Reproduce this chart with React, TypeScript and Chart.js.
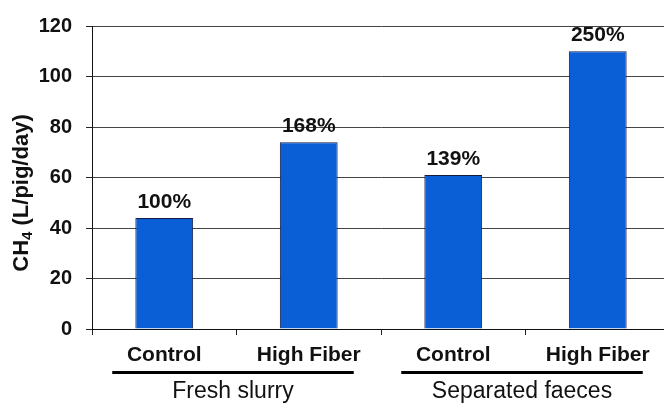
import React, { useEffect, useRef } from "react";
import { Chart, registerables } from "chart.js";

Chart.register(...registerables);

// Methane emission per pig and day for each diet and manure fraction
const categories = ["Control", "High Fiber", "Control", "High Fiber"];
const methaneValues = [44, 74, 61, 110];
const relativeLabels = ["100%", "168%", "139%", "250%"];
const groupNames = ["Fresh slurry", "Separated faeces"];
const groupFirstIndex = [0, 2];
const groupLastIndex = [1, 3];
const yTicks = [0, 20, 40, 60, 80, 100, 120];

const FONT = '"Liberation Sans", Arial, Helvetica, sans-serif';
const TEXT = "#111111";
const CANVAS_W = 670;
const CANVAS_H = 403;

const annotations = {
  id: "annotations",
  afterDatasetsDraw(chart: any) {
    const { ctx } = chart;
    const xs = chart.scales.x;
    const meta = chart.getDatasetMeta(0);

    ctx.save();
    ctx.fillStyle = TEXT;

    // percentage labels above the bars
    ctx.font = `bold 21px ${FONT}`;
    ctx.textAlign = "center";
    ctx.textBaseline = "alphabetic";
    meta.data.forEach((bar: any, i: number) => {
      ctx.fillText(relativeLabels[i], bar.x, bar.y - 10);
    });

    // group underlines and group names under the category labels
    groupNames.forEach((name, g) => {
      const x0 = xs.getPixelForValue(groupFirstIndex[g]) - 52;
      const x1 = xs.getPixelForValue(groupLastIndex[g]) + 45;
      ctx.fillStyle = "#000";
      ctx.fillRect(x0, 371, x1 - x0, 3);
      ctx.fillStyle = TEXT;
      ctx.font = `23px ${FONT}`;
      ctx.textAlign = "center";
      ctx.fillText(name, (x0 + x1) / 2, 398);
    });

    // vertical axis title with subscript
    ctx.translate(28, 193);
    ctx.rotate(-Math.PI / 2);
    const main = `bold 22px ${FONT}`;
    const sub = `bold 15px ${FONT}`;
    const parts = [
      { t: "CH", f: main, dy: 0 },
      { t: "4", f: sub, dy: 4 },
      { t: " (L/pig/day)", f: main, dy: 0 },
    ];
    let total = 0;
    parts.forEach((p) => {
      ctx.font = p.f;
      total += ctx.measureText(p.t).width;
    });
    let x = -total / 2;
    ctx.textAlign = "left";
    parts.forEach((p) => {
      ctx.font = p.f;
      ctx.fillText(p.t, x, p.dy);
      x += ctx.measureText(p.t).width;
    });
    ctx.restore();
  },
};

export default function App() {
  const canvasRef = useRef<HTMLCanvasElement | null>(null);

  useEffect(() => {
    const canvas = canvasRef.current;
    if (!canvas) return;
    const chart = new Chart(canvas, {
      type: "bar",
      data: {
        labels: categories,
        datasets: [
          {
            data: methaneValues,
            backgroundColor: "#0a5fd6",
            borderColor: "#141c45",
            borderWidth: 1,
            categoryPercentage: 1,
            barPercentage: 0.4,
          },
        ],
      },
      options: {
        responsive: false,
        animation: false,
        devicePixelRatio: 1,
        layout: { padding: { top: 26, left: 0, right: 0, bottom: 0 } },
        plugins: {
          legend: { display: false },
          tooltip: { enabled: false },
        },
        scales: {
          x: {
            grid: {
              display: true,
              drawOnChartArea: false,
              offset: true,
              tickLength: 6,
              color: "#222",
            },
            border: { display: true, color: "#111", width: 1 },
            ticks: {
              color: TEXT,
              font: { family: FONT, size: 21, weight: "bold" },
              padding: 8,
              maxRotation: 0,
              autoSkip: false,
            },
            afterFit: (s: any) => {
              s.height = 74;
            },
          },
          y: {
            min: yTicks[0],
            max: yTicks[yTicks.length - 1],
            afterBuildTicks: (s: any) => {
              s.ticks = yTicks.map((v) => ({ value: v }));
            },
            grid: {
              color: "#444",
              lineWidth: 1,
              tickLength: 6,
              tickColor: "#222",
            },
            border: { display: true, color: "#111", width: 1 },
            ticks: {
              color: TEXT,
              font: { family: FONT, size: 20, weight: "bold" },
              padding: 14,
            },
            afterFit: (s: any) => {
              s.width = 92;
            },
          },
        },
      },
      plugins: [annotations],
    });
    return () => chart.destroy();
  }, []);

  return (
    <div
      style={{
        position: "fixed",
        left: 0,
        top: 0,
        width: 664,
        height: 403,
        overflow: "hidden",
        background: "#fff",
      }}
    >
      <canvas
        ref={canvasRef}
        width={CANVAS_W}
        height={CANVAS_H}
        style={{ display: "block", width: CANVAS_W, height: CANVAS_H }}
      />
    </div>
  );
}
